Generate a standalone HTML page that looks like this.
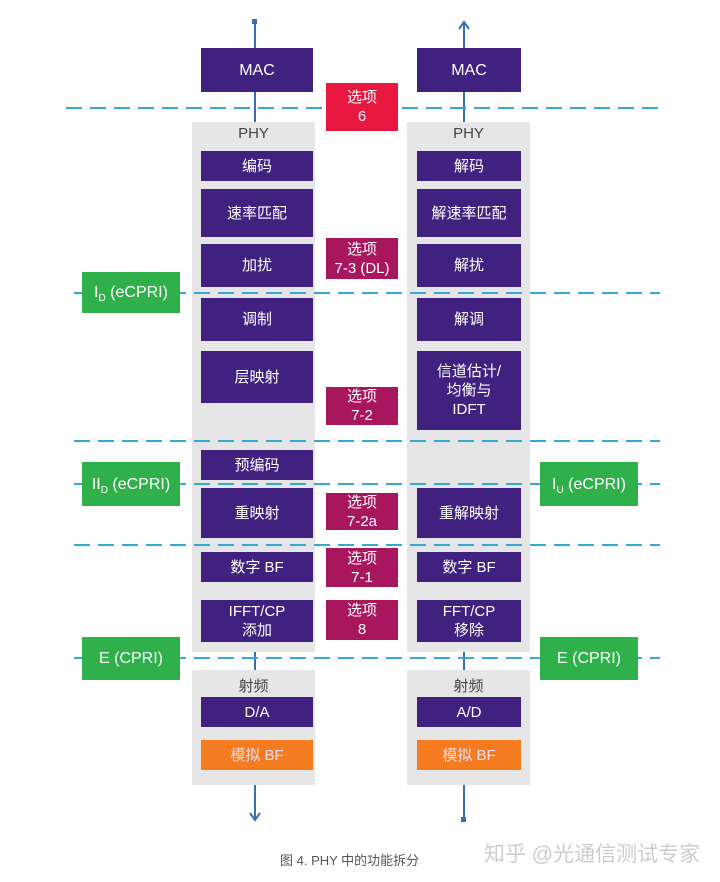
<!DOCTYPE html><html><head><meta charset="utf-8"><style>
body{margin:0;width:720px;height:882px;background:#fff;position:relative;overflow:hidden;font-family:"Liberation Sans","Noto Sans CJK SC",sans-serif}
.a{position:absolute;display:flex;align-items:center;justify-content:center;text-align:center;color:#fff;font-size:15px;line-height:19px}
.p{background:#41217f}.g{background:#e6e6e6}.m{background:#a8165e}.gr{background:#2fb04a;font-size:16px}.o{background:#f47b20;color:#fde}
.t{position:absolute;color:#444;font-size:15px;text-align:center}
.s{font-size:10px;position:relative;top:6px}
</style></head><body>
<div class="a g" style="left:192px;top:122px;width:123px;height:530px"></div>
<div class="a g" style="left:407px;top:122px;width:123px;height:530px"></div>
<div class="a g" style="left:192px;top:670px;width:123px;height:115px"></div>
<div class="a g" style="left:407px;top:670px;width:123px;height:115px"></div>
<svg style="position:absolute;left:0;top:0" width="720" height="882">
<g stroke="#3a6fae" stroke-width="2" fill="none">
<line x1="255" y1="20" x2="255" y2="122"/><line x1="464" y1="22" x2="464" y2="122"/>
<line x1="255" y1="652" x2="255" y2="670"/><line x1="464" y1="652" x2="464" y2="670"/>
<line x1="255" y1="785" x2="255" y2="820"/><line x1="464" y1="785" x2="464" y2="820"/>
<polyline points="459,29 464,22 469,29"/><polyline points="250,813 255,820 260,813"/>
</g>
<rect x="252" y="19" width="5" height="5" fill="#3a6fae"/><rect x="461" y="817" width="5" height="5" fill="#3a6fae"/>
<g stroke="#35a8d6" stroke-width="2" stroke-dasharray="16,8">
<line x1="66" y1="108" x2="660" y2="108"/><line x1="74" y1="293" x2="660" y2="293"/>
<line x1="74" y1="441" x2="660" y2="441"/><line x1="74" y1="484" x2="660" y2="484"/>
<line x1="74" y1="545" x2="660" y2="545"/><line x1="74" y1="658" x2="660" y2="658"/>
</g></svg>
<div class="a p" style="left:201px;top:48px;width:112px;height:44px;font-size:16px">MAC</div>
<div class="a p" style="left:417px;top:48px;width:104px;height:44px;font-size:16px">MAC</div>
<div class="t" style="left:192px;top:125px;width:123px">PHY</div>
<div class="t" style="left:407px;top:125px;width:123px">PHY</div>
<div class="a p" style="left:201px;top:151px;width:112px;height:30px">编码</div>
<div class="a p" style="left:201px;top:189px;width:112px;height:48px">速率匹配</div>
<div class="a p" style="left:201px;top:244px;width:112px;height:43px">加扰</div>
<div class="a p" style="left:201px;top:298px;width:112px;height:43px">调制</div>
<div class="a p" style="left:201px;top:351px;width:112px;height:52px">层映射</div>
<div class="a p" style="left:201px;top:450px;width:112px;height:30px">预编码</div>
<div class="a p" style="left:201px;top:488px;width:112px;height:50px">重映射</div>
<div class="a p" style="left:201px;top:552px;width:112px;height:30px">数字 BF</div>
<div class="a p" style="left:201px;top:600px;width:112px;height:42px">IFFT/CP<br>添加</div>
<div class="a p" style="left:417px;top:151px;width:104px;height:30px">解码</div>
<div class="a p" style="left:417px;top:189px;width:104px;height:48px">解速率匹配</div>
<div class="a p" style="left:417px;top:244px;width:104px;height:43px">解扰</div>
<div class="a p" style="left:417px;top:298px;width:104px;height:43px">解调</div>
<div class="a p" style="left:417px;top:351px;width:104px;height:79px">信道估计/<br>均衡与<br>IDFT</div>
<div class="a p" style="left:417px;top:488px;width:104px;height:50px">重解映射</div>
<div class="a p" style="left:417px;top:552px;width:104px;height:30px">数字 BF</div>
<div class="a p" style="left:417px;top:600px;width:104px;height:42px">FFT/CP<br>移除</div>
<div class="a m" style="left:326px;top:83px;width:72px;height:48px;background:#e8173f">选项<br>6</div>
<div class="a m" style="left:326px;top:238px;width:72px;height:41px">选项<br>7-3 (DL)</div>
<div class="a m" style="left:326px;top:387px;width:72px;height:38px">选项<br>7-2</div>
<div class="a m" style="left:326px;top:493px;width:72px;height:37px">选项<br>7-2a</div>
<div class="a m" style="left:326px;top:548px;width:72px;height:39px">选项<br>7-1</div>
<div class="a m" style="left:326px;top:600px;width:72px;height:40px">选项<br>8</div>
<div class="a gr" style="left:82px;top:272px;width:98px;height:41px">I<span class="s">D</span>&nbsp;(eCPRI)</div>
<div class="a gr" style="left:82px;top:462px;width:98px;height:44px">II<span class="s">D</span>&nbsp;(eCPRI)</div>
<div class="a gr" style="left:540px;top:462px;width:98px;height:44px">I<span class="s">U</span>&nbsp;(eCPRI)</div>
<div class="a gr" style="left:82px;top:637px;width:98px;height:43px">E (CPRI)</div>
<div class="a gr" style="left:540px;top:637px;width:98px;height:43px">E (CPRI)</div>
<div class="t" style="left:192px;top:675px;width:123px">射频</div>
<div class="t" style="left:407px;top:675px;width:123px">射频</div>
<div class="a p" style="left:201px;top:697px;width:112px;height:30px">D/A</div>
<div class="a p" style="left:417px;top:697px;width:104px;height:30px">A/D</div>
<div class="a o" style="left:201px;top:740px;width:112px;height:30px">模拟 BF</div>
<div class="a o" style="left:417px;top:740px;width:104px;height:30px">模拟 BF</div>
<div style="position:absolute;left:280px;top:850px;font-size:13px;color:#555">图 4. PHY 中的功能拆分</div>
<div style="position:absolute;left:484px;top:838px;font-size:21px;color:#ccc">知乎 @光通信测试专家</div>
</body></html>
